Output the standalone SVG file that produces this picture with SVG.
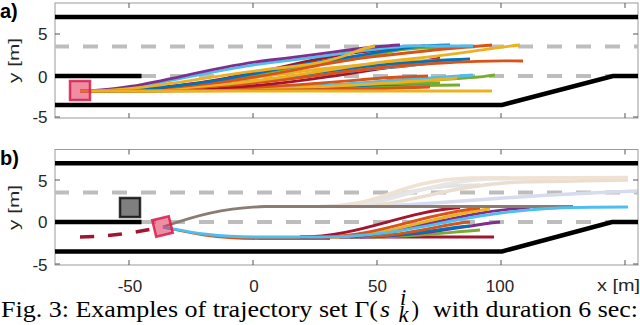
<svg xmlns="http://www.w3.org/2000/svg" width="640" height="325" viewBox="0 0 640 325">
<style>
.road{stroke:#000;stroke-width:4.5;fill:none}
.lane{stroke:#bdbdbd;stroke-width:4;stroke-dasharray:15 14;stroke-dashoffset:1;fill:none}
.box{stroke:#9a9a9a;stroke-width:1;fill:none}
.tick{stroke:#555;stroke-width:1;fill:none}
.tr{fill:none;stroke-width:2.8}
.fade{fill:none;stroke-width:3.5}
.lbl{font-family:"Liberation Sans",Arial,sans-serif;font-size:17px;fill:#262626}
.ylab{font-family:"Liberation Sans",Arial,sans-serif;font-size:14px;fill:#262626}
.tag{font-family:"Liberation Sans",Arial,sans-serif;font-size:20px;font-weight:bold;fill:#000}
.cap{font-family:"Liberation Serif","Times New Roman",serif;font-size:22.6px;fill:#000}
.c1{stroke:#0072BD}.c2{stroke:#D95319}.c3{stroke:#EDB120}.c4{stroke:#7E2F8E}.c5{stroke:#77AC30}.c6{stroke:#4DBEEE}.c7{stroke:#A2142F}
</style>

<!-- ============ Panel a ============ -->
<g id="panel-a">
  <g id="a-axes">
    <rect class="box" x="55" y="3" width="583" height="115"/>
    <path class="tick" d="M129,3v5M253,3v5M377,3v5M501,3v5M625,3v5M129,118v-5M253,118v-5M377,118v-5M501,118v-5M625,118v-5M55,34h5M55,76h5M55,117h5M638,34h-5M638,76h-5M638,117h-5"/>
  </g>
  <g id="a-road">
    <path class="lane" d="M55,46.5H638"/>
    <path class="lane" d="M55,76H638"/>
    <path class="road" d="M55,17H638"/>
    <path class="road" d="M55,76H141.5"/>
    <path class="road" d="M55,105H502L613,76H638"/>
  </g>
  <g id="a-trajectories">
    <path class="tr c5" d="M80,91C260,91 320,89 380,86L460,85"/>
    <path class="tr c1" d="M80,91C280,91 340,86 400,84L430,83"/>
    <path class="tr c5" d="M80,91C250,91 300,86 360,84L440,83"/>
    <path class="tr c4" d="M80,91C300,91 350,84 400,80L420,76"/>
    <path class="tr c5" d="M80,91C330,91 400,82 450,79S480,76 495,75"/>
    <path class="tr c6" d="M80,91C320,91 380,80 430,78L473,75"/>
    <path class="tr c3" d="M80,91C300,91 360,84 420,81L457,78"/>
    <path class="tr c2" d="M80,91C280,91 340,80 400,77L428,76"/>
    <path class="tr c7" d="M80,91C250,91 290,82 340,75S420,62 440,58"/>
    <path class="tr c3" d="M80,91C200,91 260,75 330,68S400,62 440,60"/>
    <path class="tr c4" d="M80,91C220,91 290,75 360,70S420,63 440,62"/>
    <path class="tr c6" d="M80,91C230,91 300,75 380,68S440,62 460,60"/>
    <path class="tr c1" d="M80,91C240,91 300,72 370,66S440,60 470,59"/>
    <path class="tr c2" d="M80,91C260,91 330,70 410,65S490,61 523,61"/>
    <path class="tr c5" d="M80,91C210,91 260,70 330,62S380,50 420,48L450,47"/>
    <path class="tr c3" d="M80,91C250,91 320,68 400,60S480,49 520,45"/>
    <path class="tr c2" d="M80,91C230,91 300,65 370,57S450,48 492,45"/>
    <path class="tr c7" d="M80,91C220,91 290,60 360,52S410,47 425,46"/>
    <path class="tr c1" d="M80,91C200,91 260,70 330,60S400,46 450,45"/>
    <path class="tr c6" d="M80,91C145,91 205,70 275,62S370,48 410,46L473,46"/>
    <path class="tr c4" d="M80,91C140,91 200,68 270,60S360,47 400,45"/>
    <path class="tr c3" d="M80,91C150,91 210,75 280,68S350,50 375,46"/>
    <path class="tr c2" d="M80,91C250,91 320,90 400,88L430,87"/>
    <path class="tr c3" d="M80,91L492,91"/>
  </g>
  <g id="a-ego">
    <rect x="70" y="81" width="20" height="19" fill="#e0305a" fill-opacity="0.55" stroke="#d81b4b" stroke-opacity="0.85" stroke-width="2.5"/>
  </g>
  <g id="a-labels">
    <text class="tag" x="0" y="18">a)</text>
    <text class="lbl" x="47.5" y="40" text-anchor="end">5</text>
    <text class="lbl" x="47.5" y="82.5" text-anchor="end">0</text>
    <text class="lbl" x="47.5" y="123" text-anchor="end">-5</text>
    <text class="ylab" transform="translate(18.5,60.5) rotate(-90)" x="-22.5" y="0" textLength="45" lengthAdjust="spacingAndGlyphs">y [m]</text>
  </g>
</g>

<!-- ============ Panel b ============ -->
<g id="panel-b">
  <g id="b-axes">
    <rect class="box" x="55" y="149.5" width="583" height="115.5"/>
    <path class="tick" d="M129,149.5v5M253,149.5v5M377,149.5v5M501,149.5v5M625,149.5v5M129,265v-5M253,265v-5M377,265v-5M501,265v-5M625,265v-5M55,180h5M55,222h5M55,264h5M638,180h-5M638,222h-5M638,264h-5"/>
  </g>
  <g id="b-road">
    <path class="lane" d="M55,192.5H638"/>
    <path class="lane" d="M55,222H638"/>
    <path class="road" d="M55,163.3H638"/>
    <path class="road" d="M55,222H141.5"/>
    <path class="road" d="M55,251.4H502L612,222H638"/>
  </g>
  <g id="b-faded">
    <path class="fade" stroke="#e2e2e2" d="M320,206.5C370,206 400,189 450,186L480,185"/>
    <path class="fade" stroke="#d6dcee" d="M360,206.5C430,206 490,196 637,191"/>
    <path class="fade" stroke="#ebddd0" d="M350,206.5C410,206 440,186 520,182L628,180"/>
    <path class="fade" stroke="#e6e6e6" d="M340,206.5C390,206 420,182 490,179L560,178"/>
    <path class="fade" stroke="#f0e2d2" d="M330,206.5C380,206 400,180 470,178L628,177.5"/>
  </g>
  <g id="b-trajectories">
    <path class="tr c2" stroke-width="3" d="M163,227C190,233 215,238.5 260,238.5L330,238.5"/>
    <path class="tr c7" stroke-width="3" d="M300,237L494,237"/>
    <path class="tr c5" d="M370,237C420,237 450,232 480,230"/>
    <path class="tr c4" stroke-width="3" d="M360,237C420,237 460,226 500,222"/>
    <path class="tr c1" d="M350,237C410,237 440,228 470,226"/>
    <path class="tr c2" d="M350,237C410,237 440,224 470,222"/>
    <path class="tr c5" d="M340,237C400,237 420,222 445,220"/>
    <path class="tr c4" stroke-width="3" d="M340,237C400,237 450,212 530,207.5"/>
    <path class="tr c3" d="M330,237C390,237 430,216 490,209"/>
    <path class="tr c2" d="M320,237C380,237 420,214 480,208"/>
    <path class="tr c7" d="M300,237C360,237 400,212 460,207.5"/>
    <path class="tr" stroke="#8a7c72" stroke-width="3.5" d="M163,227C195,216 222,208 265,206.5L573,206.5"/>
    <path class="tr c6" stroke-width="3" d="M163,227C185,231 210,237 255,237L320,237C390,237 430,224 480,216S560,207 628,207"/>
  </g>
  <g id="b-history">
    <path fill="none" stroke="#A2142F" stroke-width="3.5" stroke-dasharray="14 14" d="M80,237C110,236.5 135,233 163,226.5"/>
  </g>
  <g id="b-obstacle">
    <rect x="120" y="198" width="20" height="19" fill="#000" fill-opacity="0.5" stroke="#111" stroke-opacity="0.85" stroke-width="2.5"/>
  </g>
  <g id="b-ego">
    <rect x="-8.5" y="-8.5" width="17" height="17" transform="translate(162.5,226.5) rotate(-13.5)" fill="#e0305a" fill-opacity="0.55" stroke="#d81b4b" stroke-opacity="0.85" stroke-width="2.5"/>
  </g>
  <g id="b-labels">
    <text class="tag" x="0" y="165">b)</text>
    <text class="lbl" x="47.5" y="187" text-anchor="end">5</text>
    <text class="lbl" x="47.5" y="228" text-anchor="end">0</text>
    <text class="lbl" x="47.5" y="271" text-anchor="end">-5</text>
    <text class="ylab" transform="translate(18.5,207.5) rotate(-90)" x="-22.5" y="0" textLength="45" lengthAdjust="spacingAndGlyphs">y [m]</text>
  </g>
</g>

<!-- x axis labels -->
<g id="x-labels">
  <text class="lbl" x="130" y="291.5" text-anchor="middle">-50</text>
  <text class="lbl" x="254" y="291.5" text-anchor="middle">0</text>
  <text class="lbl" x="377.5" y="291.5" text-anchor="middle">50</text>
  <text class="lbl" x="500" y="291.5" text-anchor="middle">100</text>
  <text class="lbl" x="597" y="290.5" textLength="43" lengthAdjust="spacingAndGlyphs">x [m]</text>
</g>

<!-- caption -->
<g id="caption">
  <text class="cap" x="1" y="316.5" textLength="377" lengthAdjust="spacingAndGlyphs">Fig. 3: Examples of trajectory set Γ(</text>
  <text class="cap" x="380" y="316.5" font-style="italic" textLength="10" lengthAdjust="spacingAndGlyphs">s</text>
  <text class="cap" x="400" y="304.5" font-style="italic" font-size="14">i</text>
  <text class="cap" x="398.5" y="322" font-style="italic" font-size="14">k</text>
  <text class="cap" x="411.5" y="316.5">)</text>
  <text class="cap" x="433" y="316.5" textLength="205" lengthAdjust="spacingAndGlyphs">with duration 6 sec:</text>
</g>
</svg>
